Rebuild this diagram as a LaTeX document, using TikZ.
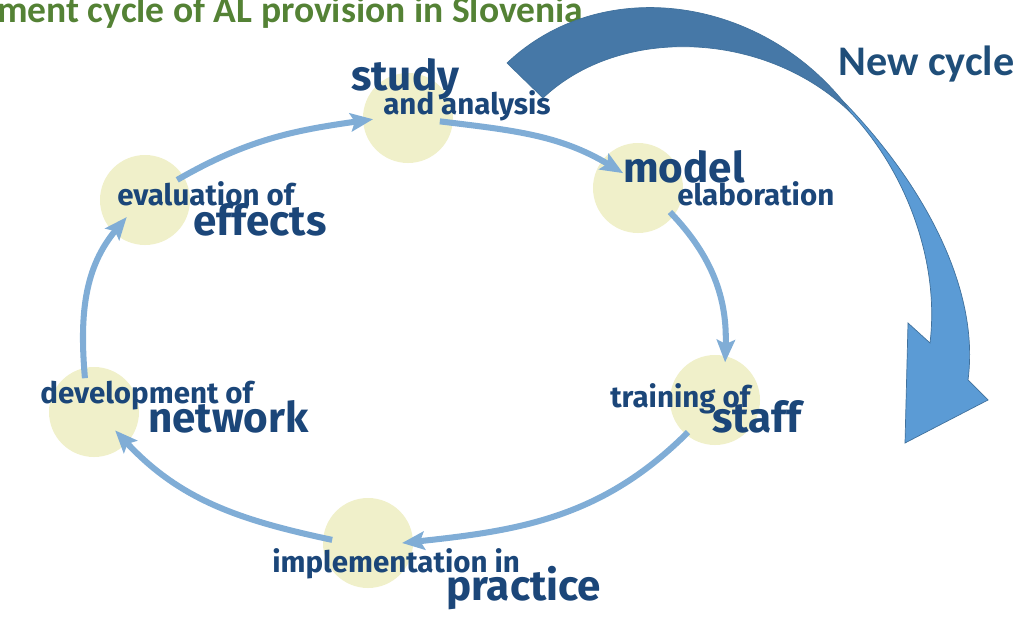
\documentclass[tikz,border=0pt]{standalone}
\usepackage{fontspec}
\setmainfont{Fira Sans}
\newfontfamily\calibri{Carlito}
\usetikzlibrary{arrows.meta, calc}
\definecolor{stagefill}{RGB}{240,240,202}
\definecolor{stagetext}{RGB}{27,70,121}
\definecolor{flowblue}{RGB}{128,173,214}
\definecolor{titlegreen}{RGB}{84,130,53}
\definecolor{cycletext}{RGB}{31,78,121}
\definecolor{cycleback}{RGB}{70,120,167}
\definecolor{cyclefront}{RGB}{91,155,213}
\definecolor{cycleedge}{RGB}{65,113,156}

\tikzset{
  stage/.style={circle, fill=stagefill, minimum size=2.25cm, inner sep=0pt},
  smalltxt/.style={anchor=base west, inner sep=0pt, text=stagetext,
    font=\bfseries\fontsize{21}{24}\selectfont},
  bigtxt/.style={anchor=base west, inner sep=0pt, text=stagetext,
    font=\bfseries\fontsize{30}{34}\selectfont},
  flow/.style={-{Stealth[length=16pt, width=13pt, inset=3pt]}, line width=4.3pt, flowblue}
}

\begin{document}
\begin{tikzpicture}[x=0.025cm, y=0.025cm]
    \clip (0,0) rectangle (1026,-631);

    % === TITLE ===
    \node[anchor=base west, inner sep=0pt, text=titlegreen,
          font=\calibri\bfseries\fontsize{26.7}{30}\selectfont] (heading) at (-3,-22)
          {ment cycle of AL provision in Slovenia};

    % === STAGES (circles) ===
    \node[stage] (study)    at (408,-118) {};
    \node[stage] (model)    at (638,-188) {};
    \node[stage] (training) at (715,-400) {};
    \node[stage] (practice) at (368,-543) {};
    \node[stage] (network)  at (94,-412)  {};
    \node[stage] (effects)  at (145,-200) {};

    % === FLOW BETWEEN STAGES ===
    \draw[flow] ($(effects)+(32:38)$)   to[out=30, in=188]  ($(study)+(182:35)$);
    \draw[flow] ($(study)+(-6:32)$)     to[out=-7, in=149]  ($(model)+(135:21)$);
    \draw[flow] ($(model)+(-37:40)$)    to[out=-46, in=88]  ($(training)+(75:39)$);
    \draw[flow] ($(training)+(230:42)$) to[out=225, in=6]   ($(practice)+(0:34)$);
    \draw[flow] ($(practice)+(175:36)$) to[out=168, in=-47] ($(network)+(-41:28)$);
    \draw[flow] ($(network)+(105:35)$)  to[out=95, in=230]  ($(effects)+(223:25)$);

    % === LABELS ===
    \node[bigtxt]   (t-study)    at (351,-90)  {study};
    \node[smalltxt] (t-analysis) at (383,-114) {and analysis};
    \node[bigtxt]   (t-model)    at (623,-182) {model};
    \node[smalltxt] (t-elab)     at (677,-205) {elaboration};
    \node[smalltxt] (t-eval)     at (117,-205) {evaluation of};
    \node[bigtxt]   (t-effects)  at (193,-235) {effects};
    \node[smalltxt] (t-devel)    at (40,-403)  {development of};
    \node[bigtxt]   (t-network)  at (148,-432) {network};
    \node[smalltxt] (t-training) at (610,-407) {training of};
    \node[bigtxt]   (t-staff)    at (712,-432) {staff};
    \node[smalltxt] (t-implem)   at (272,-572) {implementation in};
    \node[bigtxt]   (t-practice) at (446,-600) {practice};

    % === NEW CYCLE ARROW ===
    % back of the ribbon
    \filldraw[fill=cycleback, draw=cycleedge, line width=0.5pt]
        (507,-63) .. controls (600,25) and (755,5) .. (842,-100)
        -- (850,-112) .. controls (765,-30) and (620,-25) .. (543,-98) -- cycle;
    % front with the head
    \filldraw[fill=cyclefront, draw=cycleedge, line width=0.5pt]
        (842,-100) .. controls (925,-185) and (980,-290) .. (968,-380)
        -- (988,-400) -- (905,-443) -- (908,-323) -- (930,-343)
        .. controls (940,-260) and (905,-170) .. (850,-112) -- cycle;

    \node[anchor=base west, inner sep=0pt, text=cycletext,
          font=\calibri\bfseries\fontsize{30}{34}\selectfont] (newcycle) at (838,-75) {New cycle};

\end{tikzpicture}
\end{document}
